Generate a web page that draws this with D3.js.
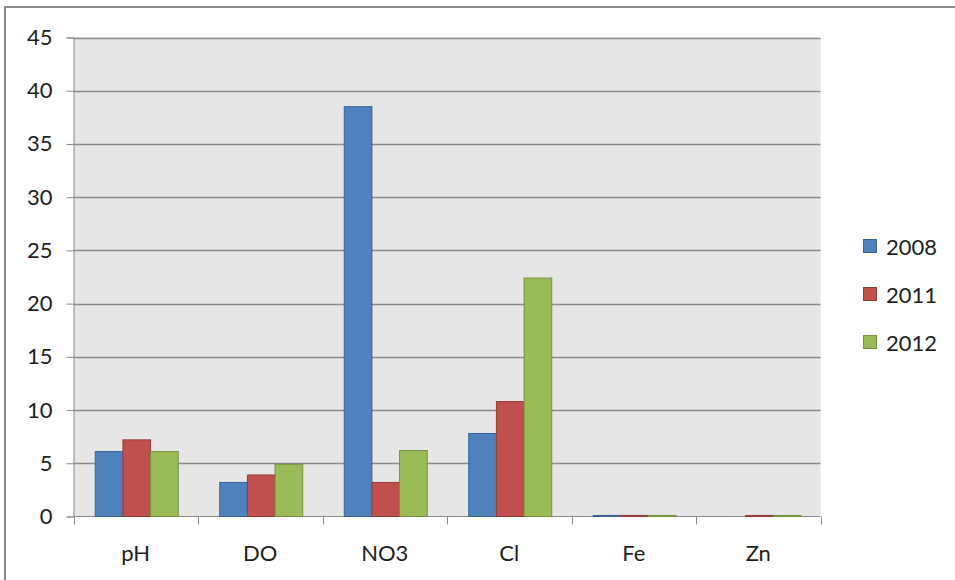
<!DOCTYPE html>
<html>
<head>
<meta charset="utf-8">
<script src="https://cdn.jsdelivr.net/npm/d3@7"></script>
<style>
  html, body { margin: 0; padding: 0; background: #fff; }
  svg { display: block; }
  text { font-family: Lato, "Open Sans", sans-serif; fill: #1e1e1e; }
</style>
</head>
<body>
<svg id="chart" width="955" height="580"></svg>
<script>
// Water-quality parameters by year
const categories = ["pH", "DO", "NO3", "Cl", "Fe", "Zn"];
const seriesNames = ["2008", "2011", "2012"];
const values2008 = [6.1, 3.2, 38.5, 7.8, 0.1, 0];
const values2011 = [7.2, 3.9, 3.2, 10.8, 0.1, 0.1];
const values2012 = [6.1, 4.9, 6.2, 22.4, 0.1, 0.1];
const yTicks = [0, 5, 10, 15, 20, 25, 30, 35, 40, 45];

const fills = ["#4F81BD", "#C0504D", "#9BBB59"];
const strokes = ["#3A6497", "#973D3A", "#76923F"];

const seriesValues = [values2008, values2011, values2012];

const svg = d3.select("#chart");
const plot = { left: 73.5, right: 820.5, top: 37.5, bottom: 516.5 };
const fontSize = 22;

// outer frame (top and left edges visible)
svg.append("path")
  .attr("d", `M5,580 V7 H955`)
  .attr("fill", "none")
  .attr("stroke", "#8a8a8a")
  .attr("stroke-width", 2);

const x = d3.scaleBand().domain(categories).range([plot.left, plot.right]);
const y = d3.scaleLinear().domain([0, 45]).range([plot.bottom, plot.top]);

// plot background
svg.append("rect")
  .attr("x", plot.left).attr("y", plot.top)
  .attr("width", plot.right - plot.left).attr("height", plot.bottom - plot.top)
  .attr("fill", "#E6E6E6");

// horizontal gridlines
svg.append("g").selectAll("line").data(yTicks.filter(d => d > 0)).join("line")
  .attr("x1", plot.left).attr("x2", plot.right)
  .attr("y1", d => Math.round(y(d)) + 0.5).attr("y2", d => Math.round(y(d)) + 0.5)
  .attr("stroke", "#8C8C8C").attr("stroke-width", 1.3);

// y axis
const yAxis = svg.append("g")
  .attr("transform", `translate(${plot.left},0)`)
  .call(d3.axisLeft(y).tickValues(yTicks).tickSize(7).tickPadding(14));
yAxis.select(".domain").attr("stroke", "#8C8C8C");
yAxis.selectAll(".tick line").attr("stroke", "#8C8C8C");
yAxis.selectAll(".tick text").attr("font-size", fontSize).attr("fill", "#1e1e1e")
  .attr("font-family", "Lato, 'Open Sans', sans-serif");

// x axis with ticks at category boundaries
const xAxisG = svg.append("g").attr("transform", `translate(0,${plot.bottom})`);
xAxisG.append("line").attr("x1", plot.left).attr("x2", plot.right)
  .attr("stroke", "#8C8C8C");
const boundaries = categories.map(c => x(c)).concat([x(categories[categories.length - 1]) + x.bandwidth()]);
xAxisG.selectAll("line.tk").data(boundaries).join("line")
  .attr("class", "tk")
  .attr("x1", d => Math.round(d) + 0.5).attr("x2", d => Math.round(d) + 0.5)
  .attr("y1", 0).attr("y2", 8)
  .attr("stroke", "#8C8C8C");
xAxisG.selectAll("text").data(categories).join("text")
  .attr("x", d => x(d) + x.bandwidth() / 2)
  .attr("y", 44)
  .attr("text-anchor", "middle")
  .attr("font-size", fontSize)
  .text(d => d);

// grouped bars: bar width = band / 4.5 (150% gap)
const barW = x.bandwidth() / 4.5;
const inner = d3.scaleBand().domain(seriesNames)
  .range([0, barW * 3]);

const groups = svg.append("g").selectAll("g").data(seriesNames).join("g");
groups.each(function (name, si) {
  d3.select(this).selectAll("rect")
    .data(categories.map((c, ci) => ({ c, v: seriesValues[si][ci] })).filter(d => d.v > 0))
    .join("rect")
    .attr("x", d => x(d.c) + (x.bandwidth() - barW * 3) / 2 + inner(name) + 1)
    .attr("y", d => y(d.v))
    .attr("width", inner.bandwidth())
    .attr("height", d => y(0) - y(d.v))
    .attr("fill", fills[si])
    .attr("stroke", strokes[si])
    .attr("stroke-width", 1);
});

// legend
const legend = svg.append("g");
seriesNames.forEach((name, i) => {
  const cy = 247 + i * 48;
  legend.append("rect")
    .attr("x", 863.5).attr("y", cy - 7.5)
    .attr("width", 13).attr("height", 13)
    .attr("fill", fills[i]).attr("stroke", strokes[i]);
  legend.append("text")
    .attr("x", 886).attr("y", cy)
    .attr("dy", "0.36em")
    .attr("font-size", fontSize)
    .text(name);
});
</script>
</body>
</html>
